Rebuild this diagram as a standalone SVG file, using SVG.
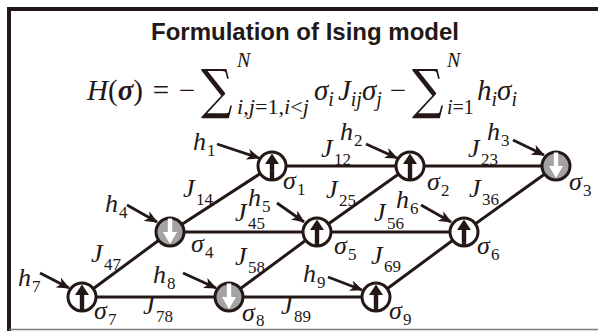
<svg xmlns="http://www.w3.org/2000/svg" xmlns:xlink="http://www.w3.org/1999/xlink" width="598" height="331" viewBox="0 0 598 331">
<style>
.frame{stroke:#231815;stroke-width:4;fill:none}
.edge{stroke:#231815;stroke-width:3;fill:none}
.field{stroke:#231815;stroke-width:2.8;fill:none;marker-end:url(#ah)}
.nodeW{fill:#ffffff;stroke:#231815;stroke-width:3}
.nodeG{fill:#a3a3a3;stroke:#231815;stroke-width:3}
.it{font-family:"Liberation Serif",serif;font-style:italic;font-size:26px;fill:#231815}
.sub{font-family:"Liberation Serif",serif;font-size:17px;fill:#231815}
.title{font-family:"Liberation Sans",Arial,sans-serif;font-weight:bold;font-size:24px;fill:#231815}
.eq{font-family:"Liberation Serif",serif;font-size:29px;fill:#231815}
.eqs{font-family:"Liberation Serif",serif;font-size:20px;fill:#231815}
.sum{font-family:"DejaVu Serif",serif;font-size:54px;fill:#231815}
</style>
<defs>
<marker id="ah" viewBox="0 0 13 11" refX="12" refY="5.5" markerWidth="13" markerHeight="11" markerUnits="userSpaceOnUse" orient="auto">
<path d="M0,0 L13,5.5 L0,11 L3.5,5.5 Z" fill="#231815"/>
</marker>
<g id="up"><polygon points="0,-12.5 7,-2 -7,-2" fill="#231815"/><rect x="-2.2" y="-3" width="4.4" height="16.5" fill="#231815"/></g>
<g id="down"><rect x="-2.2" y="-13.5" width="4.4" height="14.5" fill="#ffffff"/><polygon points="-7,0 7,0 0,12" fill="#ffffff"/></g>
</defs>
<rect width="598" height="331" fill="#ffffff"/>
<g id="frame">
<path class="frame" d="M9,331 L9,9 L600,9"/>
<line x1="9" y1="329.5" x2="598" y2="329.5" stroke="#7a7a7a" stroke-width="1.5"/>
</g>
<g id="title"><text class="title" x="305" y="40" text-anchor="middle">Formulation of Ising model</text></g>
<g id="equation">
<text class="eq" x="87" y="100"><tspan font-style="italic">H</tspan>(<tspan font-style="italic" font-weight="bold">σ</tspan>)</text>
<text class="eq" x="161" y="100" text-anchor="middle">=</text>
<text class="eq" x="187" y="100" text-anchor="middle">−</text>
<text class="sum" transform="translate(201,108) scale(0.82,1)" x="0" y="0">∑</text>
<text class="eqs" x="237" y="67" font-style="italic">N</text>
<text class="eqs" x="237" y="114" textLength="72" lengthAdjust="spacingAndGlyphs"><tspan font-style="italic">i</tspan>,<tspan font-style="italic">j</tspan>=1,<tspan font-style="italic">i</tspan>&lt;<tspan font-style="italic">j</tspan></text>
<text class="eq" x="314" y="100" font-style="italic">σ<tspan class="eqs" dy="6">i</tspan><tspan dy="-6" dx="4">J</tspan><tspan class="eqs" dy="6">ij</tspan><tspan dy="-6">σ</tspan><tspan class="eqs" dy="6">j</tspan></text>
<text class="eq" x="398" y="100" text-anchor="middle">−</text>
<text class="sum" transform="translate(412,108) scale(0.82,1)" x="0" y="0">∑</text>
<text class="eqs" x="447" y="67" font-style="italic">N</text>
<text class="eqs" x="447" y="114" font-style="italic">i<tspan font-style="normal">=1</tspan></text>
<text class="eq" x="477" y="100" font-style="italic">h<tspan class="eqs" dy="6">i</tspan><tspan dy="-6">σ</tspan><tspan class="eqs" dy="6">i</tspan></text>
</g>
<g id="connectors">
<line class="edge" x1="272" y1="166" x2="410" y2="166"/>
<line class="edge" x1="410" y1="166" x2="556" y2="166"/>
<line class="edge" x1="170" y1="232" x2="317" y2="232"/>
<line class="edge" x1="317" y1="232" x2="464" y2="232"/>
<line class="edge" x1="82" y1="297" x2="229" y2="297"/>
<line class="edge" x1="229" y1="297" x2="376" y2="297"/>
<line class="edge" x1="170" y1="232" x2="272" y2="166"/>
<line class="edge" x1="317" y1="232" x2="410" y2="166"/>
<line class="edge" x1="464" y1="232" x2="556" y2="166"/>
<line class="edge" x1="82" y1="297" x2="170" y2="232"/>
<line class="edge" x1="229" y1="297" x2="317" y2="232"/>
<line class="edge" x1="376" y1="297" x2="464" y2="232"/>
<line class="field" x1="217" y1="144" x2="259" y2="158"/>
<line class="field" x1="366" y1="144" x2="397" y2="158"/>
<line class="field" x1="513" y1="140" x2="544" y2="155"/>
<line class="field" x1="127" y1="205" x2="157" y2="222"/>
<line class="field" x1="277" y1="203" x2="304" y2="222"/>
<line class="field" x1="421" y1="205" x2="451" y2="222"/>
<line class="field" x1="40" y1="273" x2="69" y2="288"/>
<line class="field" x1="183" y1="273" x2="216" y2="288"/>
<line class="field" x1="328" y1="277" x2="362" y2="290"/>
</g>
<g id="s1"><circle class="nodeW" cx="272" cy="166" r="14"/><use xlink:href="#up" x="272" y="166"/><text class="it" x="283" y="189">σ</text><text class="sub" x="297" y="195">1</text></g>
<g id="s2"><circle class="nodeW" cx="410" cy="166" r="14"/><use xlink:href="#up" x="410" y="166"/><text class="it" x="427" y="190">σ</text><text class="sub" x="441" y="196">2</text></g>
<g id="s3"><circle class="nodeG" cx="556" cy="166" r="14"/><use xlink:href="#down" x="556" y="166"/><text class="it" x="569" y="190">σ</text><text class="sub" x="583" y="196">3</text></g>
<g id="s4"><circle class="nodeG" cx="170" cy="232" r="14"/><use xlink:href="#down" x="170" y="232"/><text class="it" x="191" y="252">σ</text><text class="sub" x="205" y="258">4</text></g>
<g id="s5"><circle class="nodeW" cx="317" cy="232" r="14"/><use xlink:href="#up" x="317" y="232"/><text class="it" x="334" y="254">σ</text><text class="sub" x="348" y="260">5</text></g>
<g id="s6"><circle class="nodeW" cx="464" cy="232" r="14"/><use xlink:href="#up" x="464" y="232"/><text class="it" x="477" y="254">σ</text><text class="sub" x="491" y="260">6</text></g>
<g id="s7"><circle class="nodeW" cx="82" cy="297" r="14"/><use xlink:href="#up" x="82" y="297"/><text class="it" x="94" y="319">σ</text><text class="sub" x="108" y="325">7</text></g>
<g id="s8"><circle class="nodeG" cx="229" cy="297" r="14"/><use xlink:href="#down" x="229" y="297"/><text class="it" x="242" y="321">σ</text><text class="sub" x="256" y="326">8</text></g>
<g id="s9"><circle class="nodeW" cx="376" cy="297" r="14"/><use xlink:href="#up" x="376" y="297"/><text class="it" x="389" y="319">σ</text><text class="sub" x="403" y="325">9</text></g>
<g id="fields">
<text class="it" x="193" y="150">h</text><text class="sub" x="207" y="156">1</text>
<text class="it" x="340" y="140">h</text><text class="sub" x="354" y="146">2</text>
<text class="it" x="487" y="140">h</text><text class="sub" x="501" y="146">3</text>
<text class="it" x="105" y="212">h</text><text class="sub" x="119" y="218">4</text>
<text class="it" x="248" y="206">h</text><text class="sub" x="262" y="212">5</text>
<text class="it" x="396" y="208">h</text><text class="sub" x="410" y="214">6</text>
<text class="it" x="18" y="286">h</text><text class="sub" x="32" y="292">7</text>
<text class="it" x="153" y="283">h</text><text class="sub" x="167" y="289">8</text>
<text class="it" x="303" y="282">h</text><text class="sub" x="317" y="288">9</text>
</g>
<g id="couplings">
<text class="it" x="321" y="157">J</text><text class="sub" x="334" y="165">12</text>
<text class="it" x="468" y="157">J</text><text class="sub" x="481" y="165">23</text>
<text class="it" x="183" y="197">J</text><text class="sub" x="196" y="205">14</text>
<text class="it" x="235" y="221">J</text><text class="sub" x="248" y="229">45</text>
<text class="it" x="91" y="262">J</text><text class="sub" x="104" y="270">47</text>
<text class="it" x="235" y="265">J</text><text class="sub" x="248" y="273">58</text>
<text class="it" x="143" y="314">J</text><text class="sub" x="156" y="322">78</text>
<text class="it" x="281" y="314">J</text><text class="sub" x="294" y="322">89</text>
<text class="it" x="326" y="198">J</text><text class="sub" x="339" y="206">25</text>
<text class="it" x="374" y="221">J</text><text class="sub" x="387" y="229">56</text>
<text class="it" x="469" y="197">J</text><text class="sub" x="482" y="205">36</text>
<text class="it" x="371" y="264">J</text><text class="sub" x="384" y="272">69</text>
</g>
</svg>
